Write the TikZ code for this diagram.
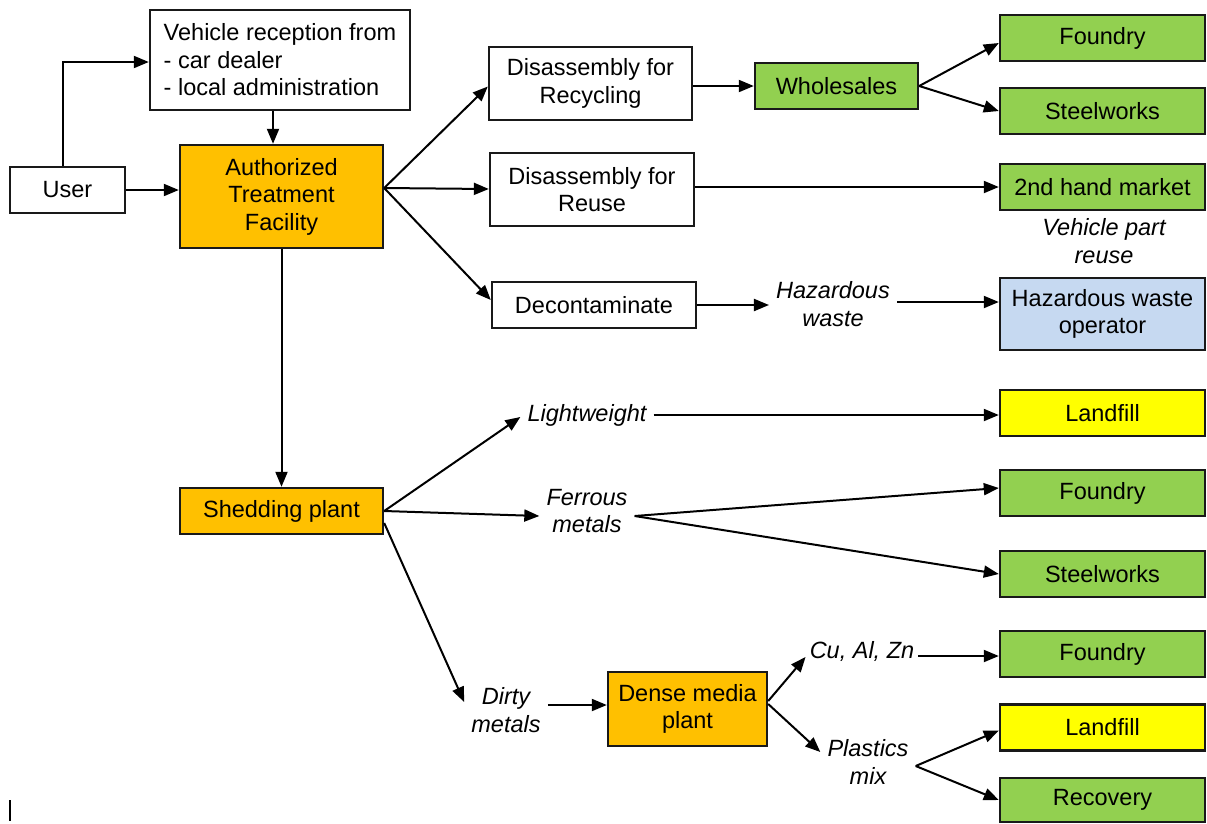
\documentclass[tikz,border=0pt]{standalone}
\usepackage{fontspec}
\setmainfont{Liberation Sans}
\usetikzlibrary{arrows.meta}
\definecolor{orng}{HTML}{FFC000}
\definecolor{grn}{HTML}{92D050}
\definecolor{yel}{HTML}{FFFF00}
\definecolor{lblue}{HTML}{C6D9F1}
\begin{document}
\begin{tikzpicture}[x=1pt,y=-1pt,
 box/.style={draw=black!90, line width=2.4pt, align=center, inner sep=0pt, font=\fontsize{23.5}{27.5}\selectfont},
 lbl/.style={font=\fontsize{23.5}{27.5}\selectfont\itshape, align=center, inner sep=7pt},
 arr/.style={line width=2pt, -{Triangle[length=15pt,width=12pt]}},
]
\useasboundingbox (0,0) rectangle (1207,823);
% left column
\node[box, minimum width=115, minimum height=46] (user) at (67.5,190) {User};
\node[box, minimum width=260, minimum height=100, align=left] (vr) at (280,60) {Vehicle reception from\\- car dealer\\- local administration};
\node[box, fill=orng, minimum width=203, minimum height=103] (atf) at (281.5,196.5) {Authorized\\Treatment\\Facility};
\node[box, fill=orng, minimum width=203, minimum height=46] (sp) at (281.5,511) {Shedding plant};
% middle
\node[box, minimum width=203, minimum height=73] (dr) at (590.5,83.5) {Disassembly for\\Recycling};
\node[box, minimum width=204, minimum height=73] (dru) at (592,189.5) {Disassembly for\\Reuse};
\node[box, minimum width=204, minimum height=46] (dc) at (594,305) {Decontaminate};
\node[box, fill=grn, minimum width=163, minimum height=46] (ws) at (836.5,86) {Wholesales};
\node[lbl] (hw) at (833,304) {Hazardous\\waste};
\node[lbl] (lw) at (587,415) {Lightweight};
\node[lbl] (fm) at (587,511) {Ferrous\\metals};
\node[lbl] (dm) at (506,710) {Dirty\\metals};
\node[box, fill=orng, minimum width=159, minimum height=74] (dmp) at (687.5,709) {Dense media\\plant};
\node[lbl, inner sep=4pt] (cu) at (862,651) {Cu, Al, Zn};
\node[lbl] (pm) at (868,762) {Plastics\\mix};
% right column
\node[box, fill=grn, minimum width=205, minimum height=46] (f1) at (1102.5,38) {Foundry};
\node[box, fill=grn, minimum width=205, minimum height=46] (s1) at (1102.5,111) {Steelworks};
\node[box, fill=grn, minimum width=205, minimum height=46] (sh) at (1102.5,187) {2nd hand market};
\node[lbl] (vpr) at (1104,241) {Vehicle part\\reuse};
\node[box, fill=lblue, minimum width=205, minimum height=72] (hwo) at (1102.5,314) {Hazardous waste\\operator};
\node[box, fill=yel, minimum width=205, minimum height=46] (lf1) at (1102.5,413) {Landfill};
\node[box, fill=grn, minimum width=205, minimum height=46] (f2) at (1102.5,493) {Foundry};
\node[box, fill=grn, minimum width=205, minimum height=46] (s2) at (1102.5,574) {Steelworks};
\node[box, fill=grn, minimum width=205, minimum height=46] (f3) at (1102.5,654) {Foundry};
\node[box, fill=yel, minimum width=205, minimum height=46] (lf2) at (1102.5,727.5) {Landfill};
\node[box, fill=grn, minimum width=205, minimum height=44] (rc) at (1102.5,800) {Recovery};
% connectors
\draw[arr] ([xshift=-5pt]user.north) |- ([yshift=-2pt]vr.west);
\draw[arr] (user.east) -- (user.east -| atf.west);
\draw[arr] ([xshift=-7pt]vr.south) -- ([xshift=-7pt]vr.south |- atf.north);
\draw[arr] ([yshift=8.5pt]atf.east) -- ([yshift=-3pt]dr.west);
\draw[arr] ([yshift=8.5pt]atf.east) -- ([yshift=0.5pt]dru.west);
\draw[arr] ([yshift=8.5pt]atf.east) -- ([yshift=5pt]dc.west);
\draw[arr] (ws.west -| dr.east) -- (ws.west);
\draw[arr] (ws.east) -- ([yshift=-5pt]f1.west);
\draw[arr] (ws.east) -- (s1.west);
\draw[arr] (sh.west -| dru.east) -- (sh.west);
\draw[arr] (dc.east) -- (dc.east -| hw.west);
\draw[arr] ([yshift=2pt]hw.east) -- ([yshift=2pt]hw.east -| hwo.west);
\draw[arr] (atf.south) -- (sp.north);
\draw[arr] (sp.east) -- ([yshift=-2pt]lw.west);
\draw[arr] (sp.east) -- ([yshift=-5pt]fm.west);
\draw[arr] ([yshift=-12pt]sp.east) -- ([yshift=8pt]dm.west);
\draw[arr] (lw.east) -- (lw.east -| lf1.west);
\draw[arr] ([yshift=-5pt]fm.east) -- ([yshift=5pt]f2.west);
\draw[arr] ([yshift=-5pt]fm.east) -- (s2.west);
\draw[arr] ([yshift=5pt]dm.east) -- ([yshift=5pt]dm.east -| dmp.west);
\draw[arr] ([yshift=8pt]dmp.east) -- ([yshift=-6pt]cu.west);
\draw[arr] ([yshift=5pt]dmp.east) -- ([yshift=10pt]pm.west);
\draw[arr] ([yshift=-5pt]cu.east) -- ([yshift=-5pt]cu.east -| f3.west);
\draw[arr] ([yshift=-4pt]pm.east) -- ([yshift=-3pt]lf2.west);
\draw[arr] ([yshift=-4pt]pm.east) -- (rc.west);
\draw[line width=1.2pt] (10,800) -- (10,821);
\end{tikzpicture}
\end{document}
